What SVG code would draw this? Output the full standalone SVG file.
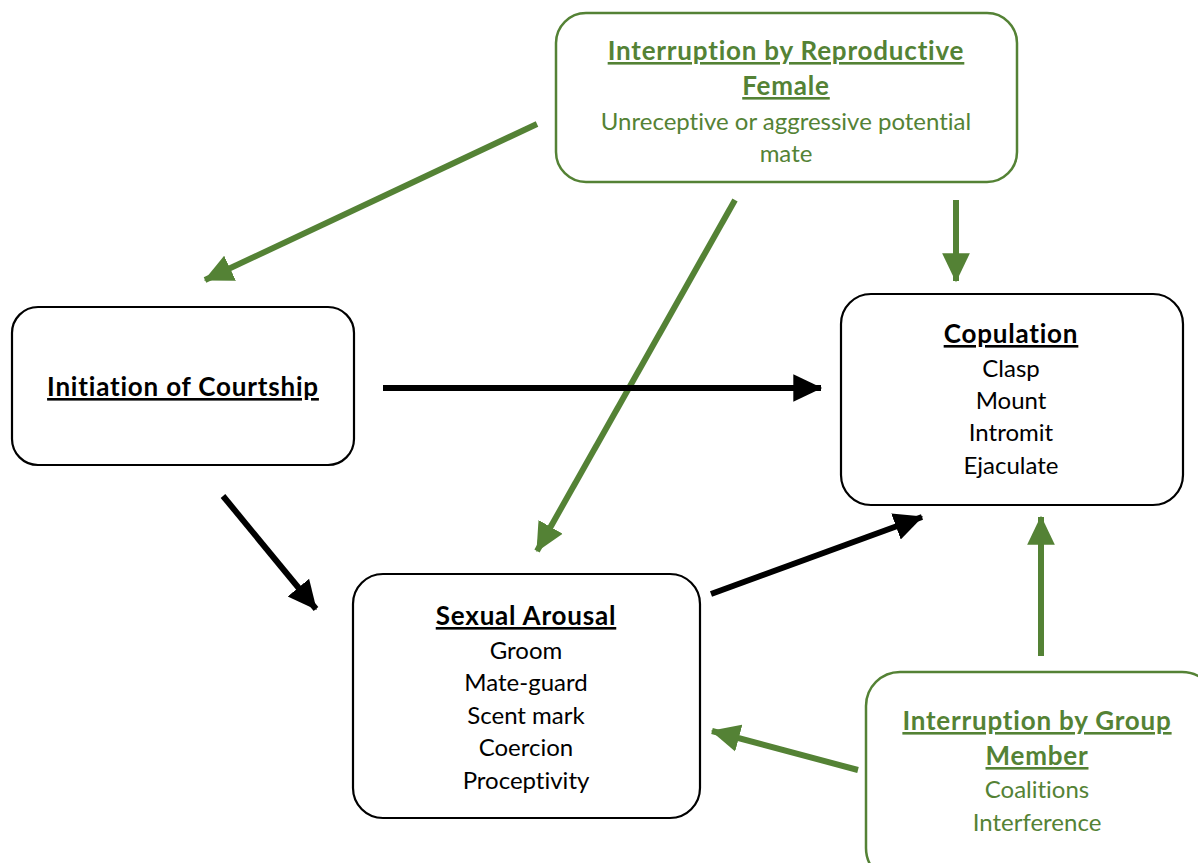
<svg xmlns="http://www.w3.org/2000/svg" width="1198" height="863" viewBox="0 0 1198 863">
<style>
.box{fill:#fff;stroke:#000;stroke-width:2.2}
.gbox{fill:#fff;stroke:#548235;stroke-width:2.5}
text{font-family:Lato,"Liberation Sans",sans-serif;font-size:24px;text-anchor:middle;fill:#000;font-variant-ligatures:none}
.t{font-weight:bold;text-decoration:underline;font-size:26px;letter-spacing:0.8px}
.g{fill:#548235}
.bl{stroke:#000;stroke-width:6;fill:none}
.gl{stroke:#548235;stroke-width:6;fill:none}
</style>
<defs>
<marker id="ab" markerUnits="userSpaceOnUse" markerWidth="30" markerHeight="30" viewBox="0 0 26 26" refX="24" refY="13" orient="auto"><path d="M0,1 L25,13 L0,25 Z" fill="#000"/></marker>
<marker id="ag" markerUnits="userSpaceOnUse" markerWidth="30" markerHeight="30" viewBox="0 0 26 26" refX="24" refY="13" orient="auto"><path d="M0,1 L25,13 L0,25 Z" fill="#548235"/></marker>
</defs>
<g id="connectors">
<line class="gl" x1="537" y1="124" x2="205" y2="280" marker-end="url(#ag)"/>
<line class="gl" x1="735" y1="200" x2="537" y2="551" marker-end="url(#ag)"/>
<line class="gl" x1="956" y1="200" x2="956" y2="281" marker-end="url(#ag)"/>
<line class="bl" x1="383" y1="388" x2="821" y2="388" marker-end="url(#ab)"/>
<line class="bl" x1="223" y1="496" x2="316" y2="609" marker-end="url(#ab)"/>
<line class="bl" x1="711" y1="594" x2="922" y2="517" marker-end="url(#ab)"/>
<line class="gl" x1="1041" y1="656" x2="1041" y2="517" marker-end="url(#ag)"/>
<line class="gl" x1="858" y1="770" x2="712" y2="731" marker-end="url(#ag)"/>
</g>
<g id="node-female">
<rect class="gbox" x="556" y="13" width="461" height="169" rx="30"/>
<text class="t g" x="786" y="60">Interruption by Reproductive</text>
<text class="t g" x="786" y="95">Female</text>
<text class="g" x="786" y="130">Unreceptive or aggressive potential</text>
<text class="g" x="786" y="162">mate</text>
</g>
<g id="node-initiation">
<rect class="box" x="12" y="307" width="342" height="158" rx="26"/>
<text class="t" x="183" y="396">Initiation of Courtship</text>
</g>
<g id="node-copulation">
<rect class="box" x="841" y="294" width="342" height="211" rx="30"/>
<text class="t" x="1011" y="343">Copulation</text>
<text x="1011" y="377">Clasp</text>
<text x="1011" y="409">Mount</text>
<text x="1011" y="441">Intromit</text>
<text x="1011" y="474">Ejaculate</text>
</g>
<g id="node-arousal">
<rect class="box" x="353" y="574" width="347" height="244" rx="30"/>
<text class="t" x="526" y="625">Sexual Arousal</text>
<text x="526" y="659">Groom</text>
<text x="526" y="691">Mate-guard</text>
<text x="526" y="724">Scent mark</text>
<text x="526" y="756">Coercion</text>
<text x="526" y="789">Proceptivity</text>
</g>
<g id="node-group">
<rect class="gbox" x="866" y="672" width="350" height="210" rx="34"/>
<text class="t g" x="1037" y="730">Interruption by Group</text>
<text class="t g" x="1037" y="765">Member</text>
<text class="g" x="1037" y="798">Coalitions</text>
<text class="g" x="1037" y="831">Interference</text>
</g>
</svg>
